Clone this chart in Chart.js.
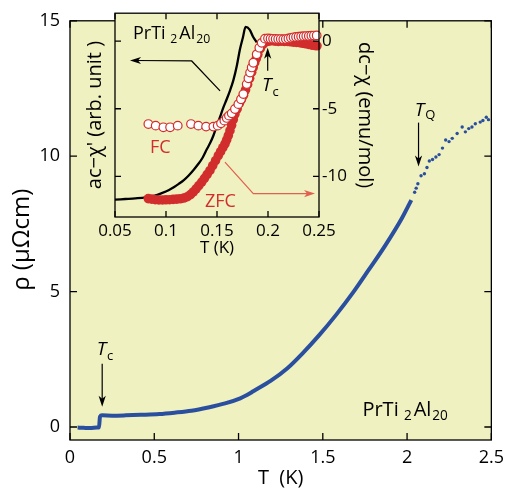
<!DOCTYPE html>
<html>
<head>
<meta charset="utf-8">
<script src="https://cdn.jsdelivr.net/npm/chart.js@4.4.0/dist/chart.umd.min.js"></script>
<style>
  html, body { margin: 0; padding: 0; background: #fff; }
  #wrap { position: relative; width: 511px; height: 490px; }
  #main { position: absolute; left: 0; top: 0; }
  #inset { position: absolute; left: 70px; top: 0; }
</style>
</head>
<body>
<div id="wrap">
  <canvas id="main" width="511" height="490"></canvas>
  <canvas id="inset" width="320" height="262"></canvas>
</div>
<script>
// main panel: rho(T)
const rhoT = [0.045, 0.08, 0.12, 0.16, 0.172, 0.178, 0.19, 0.25, 0.33, 0.42, 0.53, 0.62, 0.72, 0.82, 0.92, 1.01, 1.05, 1.09, 1.19, 1.29, 1.38, 1.48, 1.58, 1.68, 1.77, 1.87, 1.97, 2.025]
const rhoV = [-0.02, -0.03, -0.04, -0.02, -0.01, 0.38, 0.43, 0.42, 0.43, 0.45, 0.48, 0.53, 0.6, 0.72, 0.87, 1.06, 1.18, 1.33, 1.7, 2.17, 2.72, 3.4, 4.15, 4.97, 5.78, 6.7, 7.72, 8.38]
const rhoHighT = [2.045, 2.054, 2.064, 2.083, 2.103, 2.118, 2.132, 2.151, 2.171, 2.19, 2.21, 2.229, 2.249, 2.268, 2.297, 2.327, 2.346, 2.366, 2.385, 2.405, 2.434, 2.45, 2.47, 2.483]
const rhoHighV = [8.67, 8.82, 8.98, 9.28, 9.35, 9.58, 9.82, 9.88, 9.97, 10.06, 10.3, 10.6, 10.54, 10.66, 10.84, 11.08, 10.9, 11.02, 11.08, 11.2, 11.26, 11.32, 11.44, 11.35]
const mainXTicks = [0, 0.5, 1, 1.5, 2, 2.5]
const mainYTicks = [0, 5, 10, 15]

// inset: ac chi' (black line), dc chi FC (open) and ZFC (filled)
const acT = [0.05, 0.06, 0.07, 0.08, 0.089, 0.0965, 0.1025, 0.108, 0.1125, 0.1175, 0.122, 0.127, 0.132, 0.136, 0.14, 0.1435, 0.1465, 0.1497, 0.153, 0.156, 0.1595, 0.163, 0.166, 0.1695, 0.1725, 0.1755, 0.178, 0.182, 0.1855, 0.189]
const acV = [-11.72, -11.67, -11.62, -11.55, -11.42, -11.22, -11.02, -10.78, -10.55, -10.27, -9.95, -9.52, -9.05, -8.6, -8.0, -7.5, -6.98, -6.3, -5.6, -4.95, -4.3, -3.6, -2.9, -1.8, -0.6, 0.3, 1.05, 0.85, 0.3, -0.1]
const fcT = [0.0827, 0.0899, 0.0974, 0.104, 0.1115, 0.1245, 0.1317, 0.1393, 0.1464, 0.1507, 0.1539, 0.1572, 0.1595, 0.1617, 0.1644, 0.1676, 0.1709, 0.1735, 0.1758, 0.1791, 0.1808, 0.1824, 0.184, 0.1856, 0.1889, 0.1915, 0.1938, 0.197, 0.2, 0.2025, 0.205, 0.2075, 0.21, 0.2125, 0.215, 0.2175, 0.22, 0.2225, 0.225, 0.2275, 0.23, 0.2325, 0.235, 0.2375, 0.24, 0.2425, 0.245, 0.2477]
const fcV = [-6.13, -6.25, -6.37, -6.37, -6.25, -6.13, -6.25, -6.32, -6.32, -6.25, -6.08, -5.88, -5.68, -5.51, -5.34, -5.02, -4.66, -4.3, -3.92, -3.18, -2.75, -2.33, -1.95, -1.6, -0.98, -0.49, -0.13, 0.18, 0.2, 0.18, 0.17, 0.16, 0.15, 0.15, 0.14, 0.15, 0.19, 0.24, 0.28, 0.3, 0.32, 0.34, 0.36, 0.37, 0.38, 0.4, 0.41, 0.42]
const zfcT = [0.0826, 0.086, 0.0895, 0.093, 0.0965, 0.1, 0.1035, 0.107, 0.1105, 0.114, 0.1175, 0.121, 0.124, 0.1268, 0.1295, 0.1322, 0.135, 0.1377, 0.1404, 0.1431, 0.1458, 0.1486, 0.1513, 0.1535, 0.1557, 0.1578, 0.1595, 0.1611, 0.1627, 0.1643, 0.166, 0.1676, 0.1698, 0.172, 0.174, 0.176, 0.178, 0.18, 0.182, 0.184, 0.1855, 0.187, 0.1885, 0.19, 0.1925, 0.195, 0.198, 0.201, 0.204, 0.207, 0.21, 0.213, 0.216, 0.219, 0.222, 0.225, 0.228, 0.231, 0.234, 0.237, 0.24, 0.243, 0.246, 0.248]
const zfcV = [-11.64, -11.68, -11.72, -11.74, -11.74, -11.73, -11.72, -11.7, -11.68, -11.65, -11.6, -11.5, -11.35, -11.15, -10.92, -10.68, -10.42, -10.14, -9.85, -9.56, -9.2, -8.83, -8.46, -8.17, -7.88, -7.6, -7.3, -6.98, -6.62, -6.22, -5.8, -5.39, -5.0, -4.6, -4.3, -4.0, -3.6, -3.2, -2.75, -2.3, -1.95, -1.6, -1.3, -1.0, -0.55, -0.25, -0.05, 0.0, 0.02, 0.0, -0.02, 0.0, -0.02, -0.02, -0.05, -0.08, -0.1, -0.12, -0.16, -0.2, -0.25, -0.3, -0.33, -0.35]
const insetXTicks = [0.05, 0.1, 0.15, 0.2, 0.25]
const insetYTicks = [0, -5, -10]

const BG = '#f0f1c0'
const BLUE = '#2b4f9f'
const RED = '#d22d2d'
const PINK = '#e2604f'
const FONT = '"Open Sans", sans-serif'

function pts(xs, ys) {
    return xs.map((x, i) => ({ x: x, y: ys[i] }))
}

function richText(ctx, x, y, segs, color) {
    ctx.save()
    ctx.fillStyle = color
    ctx.textAlign = 'left'
    ctx.textBaseline = 'alphabetic'
    let cx = x
    segs.forEach(s => {
        ctx.font = (s.italic ? 'italic ' : '') + s.size + 'px ' + FONT
        ctx.fillText(s.t, cx, y + (s.dy || 0))
        cx += ctx.measureText(s.t).width + (s.gap || 0)
    })
    ctx.restore()
}

function drawArrow(ctx, p, color, lw) {
    ctx.save()
    ctx.strokeStyle = color
    ctx.fillStyle = color
    ctx.lineWidth = lw
    const n = p.length
    const a = p[n - 2], b = p[n - 1]
    const ang = Math.atan2(b.y - a.y, b.x - a.x)
    ctx.beginPath()
    ctx.moveTo(p[0].x, p[0].y)
    for (let i = 1; i < n - 1; i++) ctx.lineTo(p[i].x, p[i].y)
    ctx.lineTo(b.x - Math.cos(ang) * 6, b.y - Math.sin(ang) * 6)
    ctx.stroke()
    ctx.translate(b.x, b.y)
    ctx.rotate(ang)
    ctx.beginPath()
    ctx.moveTo(0, 0)
    ctx.lineTo(-11, -3.6)
    ctx.lineTo(-8, 0)
    ctx.lineTo(-11, 3.6)
    ctx.closePath()
    ctx.fill()
    ctx.restore()
}

// yellow plot area, black box and inward ticks on every side
function framePlugin(xId, yId, xTicks, yTicks, len) {
    return {
        id: 'frame',
        beforeDraw(chart) {
            const { ctx, chartArea: a } = chart
            ctx.save()
            ctx.fillStyle = BG
            ctx.fillRect(a.left, a.top, a.right - a.left, a.bottom - a.top)
            ctx.restore()
        },
        afterDatasetsDraw(chart) {
            const { ctx, chartArea: a } = chart
            const xs = chart.scales[xId], ys = chart.scales[yId]
            ctx.save()
            ctx.strokeStyle = '#000'
            ctx.lineWidth = 1.3
            ctx.beginPath()
            xTicks.forEach(v => {
                const px = xs.getPixelForValue(v)
                ctx.moveTo(px, a.bottom); ctx.lineTo(px, a.bottom - len)
                ctx.moveTo(px, a.top); ctx.lineTo(px, a.top + len)
            })
            yTicks.forEach(v => {
                const py = ys.getPixelForValue(v)
                ctx.moveTo(a.left, py); ctx.lineTo(a.left + len, py)
                ctx.moveTo(a.right, py); ctx.lineTo(a.right - len, py)
            })
            ctx.stroke()
            ctx.strokeRect(a.left, a.top, a.right - a.left, a.bottom - a.top)
            ctx.restore()
        }
    }
}

// labels and arrows placed in data units
function notesPlugin(xId, yId, notes) {
    return {
        id: 'notes',
        afterDraw(chart) {
            const ctx = chart.ctx
            const xs = chart.scales[xId], ys = chart.scales[yId]
            const px = q => ({ x: xs.getPixelForValue(q[0]), y: ys.getPixelForValue(q[1]) })
            notes.forEach(n => {
                if (n.type == 'text') {
                    const p = px(n.at)
                    richText(ctx, p.x, p.y, n.segs, n.color || '#000')
                } else {
                    drawArrow(ctx, n.path.map(px), n.color || '#000', n.lw || 1.2)
                }
            })
        }
    }
}

const tcSegs = [{ t: 'T', size: 19, italic: true, gap: 1 }, { t: 'c', size: 13, dy: 5 }]
const compound = size => [
    { t: 'PrTi', size: size }, { t: ' ', size: size },
    { t: '2', size: size * 0.68, dy: size * 0.22, gap: 2 },
    { t: 'Al', size: size, gap: 1 },
    { t: '20', size: size * 0.68, dy: size * 0.22 }
]

const mainNotes = [
    { type: 'text', at: [0.158, 2.66], segs: tcSegs },
    { type: 'arrow', path: [[0.191, 2.34], [0.191, 0.75]] },
    { type: 'text', at: [2.045, 11.49], segs: [{ t: 'T', size: 19, italic: true, gap: 1 }, { t: 'Q', size: 13, dy: 3 }] },
    { type: 'arrow', path: [[2.068, 11.24], [2.068, 9.62]] },
    { type: 'text', at: [1.735, 0.42], segs: compound(20) }
]

const insetNotes = [
    { type: 'text', at: [0.0676, 0.15], segs: compound(18) },
    { type: 'arrow', path: [[0.153, -3.68], [0.1252, -1.47], [0.0647, -1.43]] },
    { type: 'text', at: [0.0843, -8.24], segs: [{ t: 'FC', size: 18 }], color: RED },
    { type: 'text', at: [0.1382, -12.28], segs: [{ t: 'ZFC', size: 18 }], color: RED },
    { type: 'arrow', path: [[0.1578, -8.95], [0.1856, -11.27], [0.2461, -11.27]], color: PINK },
    { type: 'arrow', path: [[0.1997, -2.2], [0.1997, -0.49]] },
    { type: 'text', at: [0.1941, -3.68], segs: tcSegs }
]

const tickFont = size => ({ family: FONT, size: size })

new Chart(document.querySelector('#main'), {
    type: 'scatter',
    data: {
        datasets: [
            {
                data: pts(rhoHighT, rhoHighV),
                pointRadius: 1.7, backgroundColor: BLUE, borderWidth: 0
            },
            {
                data: pts(rhoT, rhoV),
                showLine: true, borderColor: BLUE, borderWidth: 4, pointRadius: 0,
                cubicInterpolationMode: 'monotone'
            }
        ]
    },
    options: {
        responsive: false,
        animation: false,
        layout: { padding: { top: 12, right: 13, left: 0, bottom: 0 } },
        plugins: { legend: { display: false }, tooltip: { enabled: false } },
        scales: {
            x: {
                type: 'linear', min: 0, max: 2.5,
                afterBuildTicks: s => { s.ticks = mainXTicks.map(v => ({ value: v })) },
                afterFit: s => { s.height = 50 },
                grid: { display: false, drawTicks: false },
                border: { display: false },
                ticks: { color: '#000', font: tickFont(18), padding: 7, maxRotation: 0, callback: v => String(v) },
                title: { display: true, text: 'T  (K)', color: '#000', font: tickFont(20), padding: { top: 0, bottom: 0 } }
            },
            y: {
                type: 'linear', min: -0.48, max: 15,
                afterBuildTicks: s => { s.ticks = mainYTicks.map(v => ({ value: v })) },
                afterFit: s => { s.width = 70 },
                grid: { display: false, drawTicks: false },
                border: { display: false },
                ticks: { color: '#000', font: tickFont(18), padding: 10, callback: v => String(v) },
                title: { display: true, text: 'ρ (μΩcm)   ', color: '#000', font: tickFont(24), padding: { top: 8, bottom: 0 } }
            }
        }
    },
    plugins: [framePlugin('x', 'y', mainXTicks, mainYTicks, 7), notesPlugin('x', 'y', mainNotes)]
})

new Chart(document.querySelector('#inset'), {
    type: 'scatter',
    data: {
        datasets: [
            {
                data: pts(fcT, fcV), yAxisID: 'y', clip: false,
                pointRadius: 4.3, backgroundColor: '#fff', borderColor: RED, borderWidth: 1.2
            },
            {
                data: pts(zfcT, zfcV), yAxisID: 'y', clip: false,
                pointRadius: 4.8, backgroundColor: RED, borderWidth: 0
            },
            {
                data: pts(acT, acV), yAxisID: 'y',
                showLine: true, borderColor: '#000', borderWidth: 2.3, pointRadius: 0,
                cubicInterpolationMode: 'monotone'
            }
        ]
    },
    options: {
        responsive: false,
        animation: false,
        layout: { padding: { top: 12, right: 0, left: 0, bottom: 0 } },
        plugins: { legend: { display: false }, tooltip: { enabled: false } },
        scales: {
            x: {
                type: 'linear', min: 0.05, max: 0.25,
                afterBuildTicks: s => { s.ticks = insetXTicks.map(v => ({ value: v })) },
                afterFit: s => { s.height = 45 },
                grid: { display: false, drawTicks: false },
                border: { display: false },
                ticks: { color: '#000', font: tickFont(17), padding: 4, maxRotation: 0, callback: v => String(v) },
                title: { display: true, text: 'T (K)', color: '#000', font: tickFont(17), padding: { top: 0, bottom: 4 } }
            },
            yl: {
                type: 'linear', position: 'left', min: -13, max: 2.06,
                afterFit: s => { s.width = 45 },
                grid: { display: false, drawTicks: false },
                border: { display: false },
                ticks: { display: false },
                title: { display: true, text: "ac−χ' (arb. unit )", color: '#000', font: tickFont(20), padding: { top: 13, bottom: 0 } }
            },
            y: {
                type: 'linear', position: 'right', min: -13, max: 2.06,
                afterBuildTicks: s => { s.ticks = insetYTicks.map(v => ({ value: v })) },
                afterFit: s => { s.width = 71 },
                grid: { display: false, drawTicks: false },
                border: { display: false },
                ticks: { color: '#000', font: tickFont(17), padding: 3, callback: v => String(v) },
                title: { display: true, text: 'dc−χ (emu/mol)', color: '#000', font: tickFont(20), padding: { top: 13, bottom: 0 } }
            }
        }
    },
    plugins: [framePlugin('x', 'y', insetXTicks, insetYTicks, 6), notesPlugin('x', 'y', insetNotes)]
})
</script>
</body>
</html>
